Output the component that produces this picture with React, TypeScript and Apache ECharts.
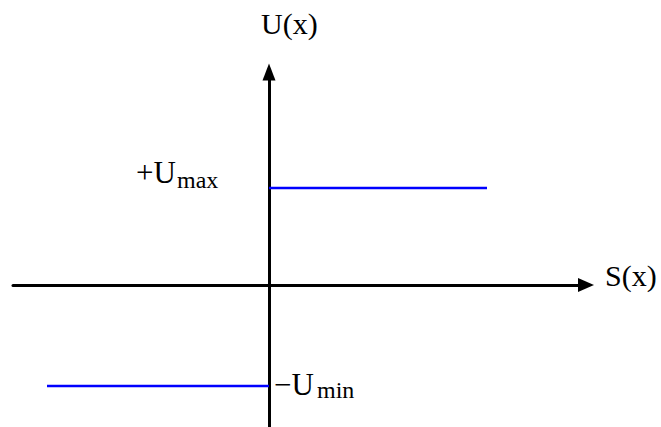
import React, { useEffect, useRef } from 'react';
import * as echarts from 'echarts';

// Domain of the two axes (S on x, U on y)
const xRange = [-2.56, 3.17];
const yRange = [-1.42, 2.13];
// Relay characteristic: +Umax for S > 0, −Umin for S < 0
const upperSegment = [[0, 0.97], [2.18, 0.97]];
const lowerSegment = [[-2.22, -1.01], [0, -1.01]];
const axisNames = ['S(x)', 'U(x)'];
const levelMain = ['+U', '−U'];
const levelSub = ['max', 'min'];

const FONT = '"Liberation Serif", "DejaVu Serif", serif';

function txt(text: string, x: number, y: number, size: number) {
  return {
    type: 'text',
    x,
    y,
    silent: true,
    style: {
      text,
      fill: '#000',
      font: `${size}px ${FONT}`,
      align: 'left',
      verticalAlign: 'middle',
      textAlign: 'left',
      textVerticalAlign: 'middle',
    },
  };
}

export default function App() {
  const ref = useRef<HTMLDivElement>(null);
  useEffect(() => {
    document.body.style.margin = '0';
    const chart = echarts.init(ref.current!, null, { renderer: 'svg' });
    const axisCommon = {
      type: 'value',
      axisTick: { show: false },
      axisLabel: { show: false },
      splitLine: { show: false },
    };
    chart.setOption({
      animation: false,
      backgroundColor: '#fff',
      grid: { left: 13, right: 75, top: 72, bottom: 0, outerBoundsMode: 'none' },
      xAxis: {
        ...axisCommon,
        min: xRange[0],
        max: xRange[1],
        axisLine: {
          show: true,
          onZero: true,
          symbol: ['none', 'triangle'],
          symbolSize: [14, 16],
          lineStyle: { color: '#000', width: 3 },
        },
      },
      yAxis: {
        ...axisCommon,
        min: yRange[0],
        max: yRange[1],
        axisLine: {
          show: true,
          onZero: true,
          symbol: ['none', 'triangle'],
          symbolSize: [13, 17],
          lineStyle: { color: '#000', width: 3 },
        },
      },
      series: [
        {
          type: 'line',
          data: upperSegment,
          symbol: 'none',
          lineStyle: { color: '#0000ff', width: 2.5 },
          z: 1,
        },
        {
          type: 'line',
          data: lowerSegment,
          symbol: 'none',
          lineStyle: { color: '#0000ff', width: 2.5 },
          z: 1,
        },
      ],
      graphic: [
        txt(axisNames[1], 261, 23, 30),
        txt(axisNames[0], 605, 275, 30),
        txt(levelMain[0], 136, 172, 31),
        txt(levelSub[0], 177, 180, 24),
        txt(levelMain[1], 274, 384, 31),
        txt(levelSub[1], 317, 390, 24),
      ],
    });
    return () => chart.dispose();
  }, []);
  return <div ref={ref} style={{ width: 661, height: 427 }} />;
}
